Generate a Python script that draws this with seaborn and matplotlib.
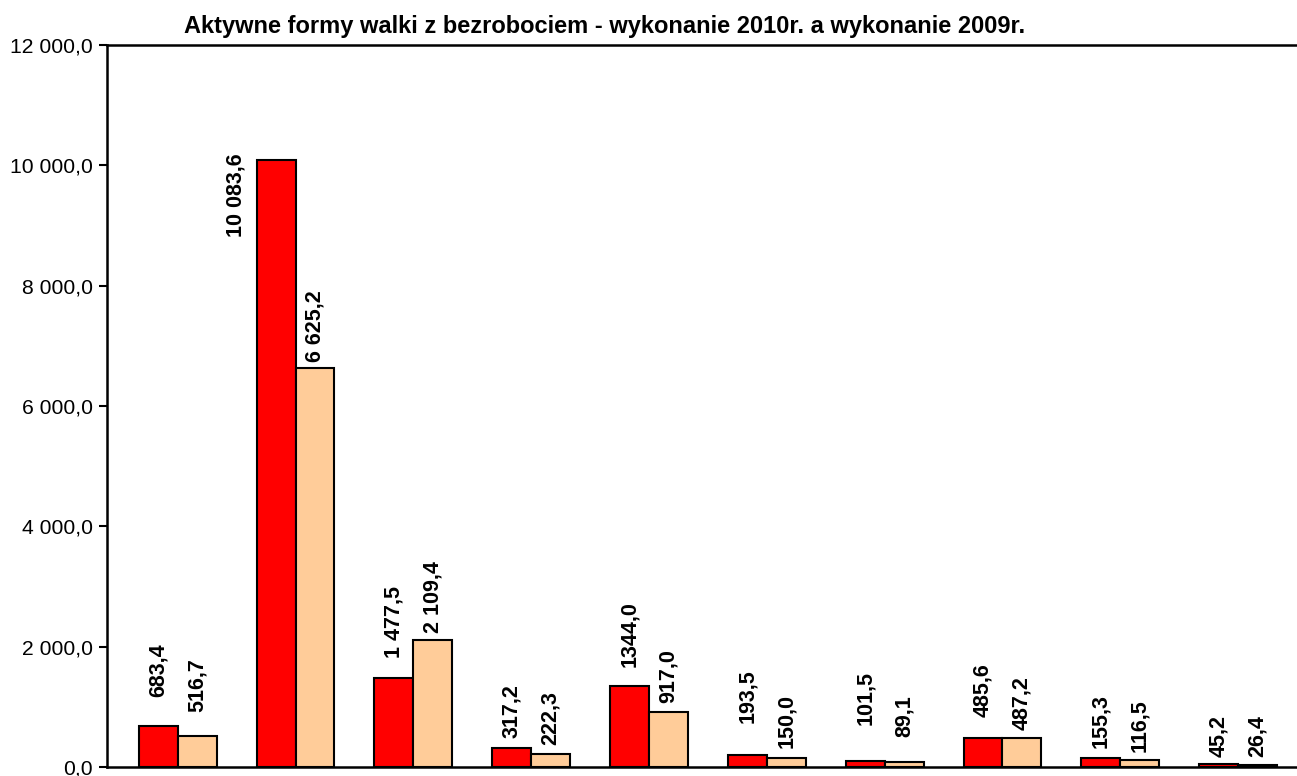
"""Aktywne formy walki z bezrobociem - wykonanie 2010r. a wykonanie 2009r."""

import matplotlib

matplotlib.use("Agg")
import matplotlib.pyplot as plt
import matplotlib.ticker as mtick
import pandas as pd
import seaborn as sns

##### Data ####################################################################
categories = [f"poz{i}" for i in range(1, 11)]
years = ["2010", "2009"]
values_2010 = [683.4, 10083.6, 1477.5, 317.2, 1344.0, 193.5, 101.5, 485.6, 155.3, 45.2]
values_2009 = [516.7, 6625.2, 2109.4, 222.3, 917.0, 150.0, 89.1, 487.2, 116.5, 26.4]
labels_2010 = ["683,4", "10 083,6", "1 477,5", "317,2", "1344,0",
               "193,5", "101,5", "485,6", "155,3", "45,2"]
labels_2009 = ["516,7", "6 625,2", "2 109,4", "222,3", "917,0",
               "150,0", "89,1", "487,2", "116,5", "26,4"]

##### Style ###################################################################
colors = {"2010": "#FF0000", "2009": "#FFCC99"}
# gap between bar top and label, in pixels (labels were hand-placed)
pad_2010 = [29, 0, 20, 10, 19, 32, 36, 21, 10, 7]
pad_2009 = [24, 6, 7, 9, 9, 10, 25, 8, 8, 8]
FONT = ["Liberation Sans", "DejaVu Sans"]


def fmt_pl(x, pos):
    s = f"{x:,.1f}".replace(",", " ").replace(".", ",")
    return s


def main():
    df = pd.DataFrame(
        {
            "kategoria": categories * 2,
            "rok": [years[0]] * len(categories) + [years[1]] * len(categories),
            "wartosc": values_2010 + values_2009,
        }
    )

    sns.set_style("white")
    plt.rcParams["font.family"] = FONT
    plt.rcParams["text.color"] = "black"

    fig = plt.figure(figsize=(12.97, 7.76), dpi=100)
    ax = fig.add_axes([107 / 1297, 1 - 767 / 776, 1 - 107 / 1297, (767 - 45) / 776])

    sns.barplot(
        data=df,
        x="kategoria",
        y="wartosc",
        hue="rok",
        hue_order=years,
        palette=colors,
        saturation=1,
        width=0.66,
        gap=0,
        edgecolor="black",
        linewidth=1.5,
        legend=False,
        ax=ax,
    )

    ax.set_xlim(-0.6, 9.5)
    ax.set_ylim(0, 12000)
    ax.yaxis.set_major_locator(mtick.MultipleLocator(2000))
    ax.yaxis.set_major_formatter(mtick.FuncFormatter(fmt_pl))
    ax.set_xticks([])
    ax.set_xlabel("")
    ax.set_ylabel("")
    ax.tick_params(axis="y", which="major", direction="out", length=6, width=1.5,
                   labelsize=15.2, pad=4, left=True, colors="black")
    for side in ["left", "top", "bottom"]:
        ax.spines[side].set_visible(True)
        ax.spines[side].set_color("black")
        ax.spines[side].set_linewidth(1.8)
    ax.spines["right"].set_visible(False)
    ax.grid(False)

    # value labels
    px2pt = 0.72
    for cont, labels, pads in zip(ax.containers, [labels_2010, labels_2009], [pad_2010, pad_2009]):
        for bar, lab, pad in zip(cont, labels, pads):
            xc = bar.get_x() + bar.get_width() / 2
            h = bar.get_height()
            if lab == "10 083,6":
                ax.annotate(lab, xy=(xc, h), xytext=(-40 * px2pt, 7 * px2pt),
                            textcoords="offset points", rotation=90, color="black",
                            ha="center", va="top", fontsize=15.5, fontweight="bold")
            else:
                ax.annotate(lab, xy=(xc, h), xytext=(0, pad * px2pt),
                            textcoords="offset points", rotation=90, color="black",
                            ha="center", va="bottom", fontsize=15.5, fontweight="bold")

    fig.text(605 / 1297, 1 - 27 / 776,
             "Aktywne formy walki z bezrobociem - wykonanie 2010r. a wykonanie 2009r.",
             ha="center", va="center", fontsize=17, fontweight="bold", color="black")

    fig.savefig("out.png", dpi=100)
    plt.close(fig)


if __name__ == "__main__":
    main()
